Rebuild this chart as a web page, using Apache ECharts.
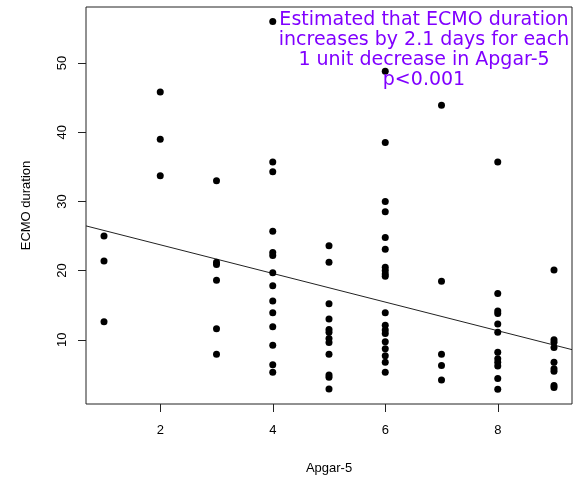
<!DOCTYPE html>
<html><head><meta charset="utf-8">
<script src="https://cdn.jsdelivr.net/npm/echarts@6/dist/echarts.min.js"></script>
<style>html,body{margin:0;padding:0;background:#fff}#c{width:573px;height:479px}</style>
</head><body><div id="c"></div>
<script>
// ECMO duration values per Apgar-5 score
const apgar1 = [25.0, 21.4, 12.6];
const apgar2 = [45.8, 39.0, 33.7];
const apgar3 = [33.0, 21.2, 20.9, 18.6, 11.6, 7.9];
const apgar4 = [56.0, 35.7, 34.3, 25.7, 22.6, 22.2, 19.7, 17.8, 15.6, 13.9, 11.9, 9.2, 6.4, 5.3];
const apgar5 = [23.6, 21.2, 15.2, 13.0, 11.5, 11.1, 10.2, 9.6, 7.9, 4.9, 4.6, 2.9];
const apgar6 = [48.8, 38.5, 30.0, 28.5, 24.8, 23.1, 20.5, 20.0, 19.5, 19.2, 13.9, 12.1, 11.4, 10.9, 9.7, 8.7, 7.7, 6.75, 5.3];
const apgar7 = [43.9, 18.45, 7.9, 6.3, 4.2];
const apgar8 = [35.7, 16.7, 14.15, 13.8, 12.3, 11.1, 8.2, 7.25, 6.75, 6.2, 4.4, 2.85];
const apgar9 = [20.1, 10.0, 9.65, 8.9, 6.75, 5.8, 5.45, 3.4, 3.1];
const groups = [apgar1, apgar2, apgar3, apgar4, apgar5, apgar6, apgar7, apgar8, apgar9];
const groupScores = [1, 2, 3, 4, 5, 6, 7, 8, 9];

// fitted regression line: ECMO = intercept + slope * Apgar
const intercept = 27.87;
const slope = -2.07;

const xTicks = [2, 4, 6, 8];
const yTicks = [10, 20, 30, 40, 50];
const xMin = 0.68, xMax = 9.32, yMin = 0.72, yMax = 58.1;

const annotation = ['Estimated that ECMO duration', 'increases by 2.1 days for each', '1 unit decrease in Apgar-5', 'p<0.001'];

const points = [];
groups.forEach((g, i) => g.forEach(v => points.push([groupScores[i], v])));
const lineData = [[xMin, intercept + slope * xMin], [xMax, intercept + slope * xMax]];

const chart = echarts.init(document.getElementById('c'), null, {renderer: 'canvas'});
chart.setOption({
  animation: false,
  backgroundColor: '#fff',
  grid: {left: 86, right: 1, top: 7, bottom: 75, outerBoundsMode: 'none', containLabel: false,
         show: true, borderColor: '#222', borderWidth: 1, backgroundColor: 'transparent'},
  xAxis: {
    type: 'value', min: xMin, max: xMax,
    name: 'Apgar-5', nameLocation: 'middle', nameGap: 58,
    nameTextStyle: {fontFamily: 'Liberation Sans', fontSize: 13, color: '#000'},
    axisLine: {show: false},
    splitLine: {show: false},
    axisTick: {show: true, customValues: xTicks, length: 8, lineStyle: {color: '#222'}},
    axisLabel: {customValues: xTicks, margin: 20, fontFamily: 'Liberation Sans', fontSize: 13, color: '#000'}
  },
  yAxis: {
    type: 'value', min: yMin, max: yMax,
    name: 'ECMO duration', nameLocation: 'middle', nameGap: 53, nameRotate: 90,
    nameTextStyle: {fontFamily: 'Liberation Sans', fontSize: 13, color: '#000'},
    axisLine: {show: false},
    splitLine: {show: false},
    axisTick: {show: true, customValues: yTicks, length: 8, lineStyle: {color: '#222'}},
    axisLabel: {customValues: yTicks, rotate: 90, margin: 17, fontFamily: 'Liberation Sans', fontSize: 13, color: '#000'}
  },
  series: [
    {type: 'line', data: lineData, symbol: 'none', silent: true,
     lineStyle: {color: '#222', width: 1}, clip: true, z: 1},
    {type: 'scatter', data: points, symbol: 'circle', symbolSize: 7,
     itemStyle: {color: '#000', opacity: 1}, z: 2}
  ],
  graphic: [{
    type: 'text', x: 424, y: 10, z: 10,
    style: {
      text: annotation.join('\n'), textAlign: 'center', textVerticalAlign: 'top',
      fontFamily: 'DejaVu Sans', fontSize: 19, lineHeight: 20, fill: '#8000ff'
    }
  }]
});
</script>
</body></html>
